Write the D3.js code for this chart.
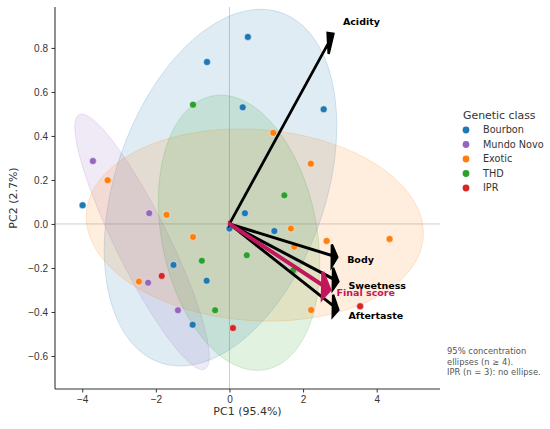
<!DOCTYPE html>
<html>
<head>
<meta charset="utf-8">
<script src="https://cdn.jsdelivr.net/npm/d3@7"></script>
<style>
  body { margin: 0; background: #fff; }
  svg { font-family: "DejaVu Sans", sans-serif; }
  .axis path, .axis line { stroke: #333; }
  .axis text { fill: #333; font-size: 10px; }
</style>
</head>
<body>
<svg class="chart"></svg>
<script>
// DATA /////////////////////////////////////////
const classes = ["Bourbon", "Mundo Novo", "Exotic", "THD", "IPR"];
const classColors = ["#1f77b4", "#9467bd", "#ff7f0e", "#2ca02c", "#d62728"];

// sample scores (PC1, PC2) and genetic class
const pc1 = [
  0.50, -0.61, 0.36, 2.56, -3.99, 0.42, 0.00, 1.22, -1.52, -0.62, -1.00,
  -3.71, -2.18, -2.21, -1.40,
  1.19, -3.31, 2.21, -1.71, -0.99, 1.67, 2.64, 4.35, 1.76, -2.46, 2.22,
  -0.99, 1.49, -0.75, 0.47, 1.73, -0.39,
  -1.84, 0.095, 3.55
];
const pc2 = [
  0.850, 0.736, 0.530, 0.521, 0.085, 0.049, -0.021, -0.032, -0.186, -0.258, -0.458,
  0.286, 0.049, -0.267, -0.392,
  0.414, 0.199, 0.274, 0.042, -0.059, -0.021, -0.077, -0.068, -0.103, -0.262, -0.391,
  0.542, 0.130, -0.167, -0.142, -0.211, -0.392,
  -0.236, -0.473, -0.374
];
const sampleClass = [
  ...Array(11).fill("Bourbon"),
  ...Array(4).fill("Mundo Novo"),
  ...Array(11).fill("Exotic"),
  ...Array(6).fill("THD"),
  ...Array(3).fill("IPR")
];

// loadings (biplot arrows)
const variables = ["Acidity", "Body", "Sweetness", "Aftertaste", "Final score"];
const loadX = [2.68, 2.78, 2.81, 2.81, 2.53];
const loadY = [0.82, -0.143, -0.249, -0.371, -0.278];

const xTicks = [-4, -2, 0, 2, 4];
const yTicks = [-0.6, -0.4, -0.2, 0.0, 0.2, 0.4, 0.6, 0.8];
const noteLines = ["95% concentration", "ellipses (n \u2265 4).", "IPR (n = 3): no ellipse."];

// DEFINITIONS //////////////////////////////////
const W = 550, H = 429;
const plot = { left: 55, right: 440, top: 7, bottom: 389 };
const ELL_K = 1.89;
const finalColor = "#c2185b";

const svg = d3.select(".chart").attr("width", W).attr("height", H);

const x = d3.scaleLinear().domain([-4.74, 5.72]).range([plot.left, plot.right]);
const y = d3.scaleLinear().domain([-0.75, 0.986]).range([plot.bottom, plot.top]);
const color = d3.scaleOrdinal().domain(classes).range(classColors);

const samples = pc1.map((v, i) => ({ x: v, y: pc2[i], cls: sampleClass[i] }));

// zero lines
svg.append("line")
  .attr("x1", x(0)).attr("x2", x(0))
  .attr("y1", plot.top).attr("y2", plot.bottom)
  .attr("stroke", "#c8c8c8").attr("stroke-width", 0.9);
svg.append("line")
  .attr("x1", plot.left).attr("x2", plot.right)
  .attr("y1", y(0)).attr("y2", y(0))
  .attr("stroke", "#c8c8c8").attr("stroke-width", 0.9);

// ELLIPSES /////////////////////////////////////
const ellipsePath = (pts) => {
  const n = pts.length;
  const mx = d3.mean(pts, (d) => d.x), my = d3.mean(pts, (d) => d.y);
  let sxx = 0, syy = 0, sxy = 0;
  pts.forEach((d) => {
    sxx += (d.x - mx) ** 2;
    syy += (d.y - my) ** 2;
    sxy += (d.x - mx) * (d.y - my);
  });
  sxx /= n - 1; syy /= n - 1; sxy /= n - 1;
  // cholesky
  const a = Math.sqrt(sxx), b = sxy / a, c = Math.sqrt(syy - b * b);
  const ring = d3.range(0, 361, 3).map((deg) => {
    const t = (deg * Math.PI) / 180;
    return [
      x(mx + ELL_K * a * Math.cos(t)),
      y(my + ELL_K * (b * Math.cos(t) + c * Math.sin(t)))
    ];
  });
  return d3.line()(ring) + "Z";
};

const groups = classes
  .map((c) => ({ cls: c, pts: samples.filter((d) => d.cls === c) }))
  .filter((g) => g.pts.length >= 4);

svg.append("g")
  .selectAll("path")
  .data(groups)
  .join("path")
  .attr("d", (g) => ellipsePath(g.pts))
  .attr("fill", (g) => color(g.cls))
  .attr("fill-opacity", 0.14)
  .attr("stroke", (g) => color(g.cls))
  .attr("stroke-opacity", 0.18)
  .attr("stroke-width", 1);

// POINTS ///////////////////////////////////////
svg.append("g")
  .selectAll("circle")
  .data(samples)
  .join("circle")
  .attr("cx", (d) => x(d.x))
  .attr("cy", (d) => y(d.y))
  .attr("r", 3.5)
  .attr("fill", (d) => color(d.cls))
  .attr("stroke", "#fff")
  .attr("stroke-width", 0.5);

// ARROWS ///////////////////////////////////////
// arrow outline built in data units, then sent through the scales
const arrowPath = (dx, dy, w, hw, hl) => {
  const L = Math.hypot(dx, dy);
  const ux = dx / L, uy = dy / L, px = -uy, py = ux;
  const tx = dx + hl * ux, ty = dy + hl * uy;
  const local = [
    [0, 0], [-hl, -hw / 2], [-hl, -w / 2], [-(L + hl), -w / 2],
    [-(L + hl), w / 2], [-hl, w / 2], [-hl, hw / 2]
  ];
  const pts = local.map(([s, p]) => [x(tx + s * ux + p * px), y(ty + s * uy + p * py)]);
  return d3.line()(pts) + "Z";
};

const loads = variables.map((v, i) => ({
  name: v, dx: loadX[i], dy: loadY[i], final: v === "Final score"
}));
// draw final score last so it sits on top
const order = loads.filter((d) => !d.final).concat(loads.filter((d) => d.final));

svg.append("g")
  .selectAll("path")
  .data(order)
  .join("path")
  .attr("d", (d) => d.final
    ? arrowPath(d.dx, d.dy, 0.004, 0.12, 0.2)
    : arrowPath(d.dx, d.dy, 0.003, 0.1, 0.15))
  .attr("fill", (d) => (d.final ? finalColor : "#000"))
  .attr("stroke", (d) => (d.final ? finalColor : "#000"))
  .attr("stroke-width", (d) => (d.final ? 3.2 : 2.4))
  .attr("stroke-linejoin", "miter")
  .attr("stroke-miterlimit", 4);

svg.append("g")
  .selectAll("text")
  .data(order)
  .join("text")
  .attr("x", (d) => x(d.dx * 1.15))
  .attr("y", (d) => y(d.dy * 1.12))
  .attr("dy", "0.35em")
  .attr("font-size", 9.5)
  .attr("font-weight", "bold")
  .attr("fill", (d) => (d.final ? finalColor : "#000"))
  .text((d) => d.name);

// AXES /////////////////////////////////////////
const xAxis = svg.append("g")
  .attr("class", "axis")
  .attr("transform", `translate(0, ${plot.bottom})`)
  .call(d3.axisBottom(x).tickValues(xTicks).tickFormat(d3.format("d")).tickSize(3.5).tickPadding(3.5));
xAxis.select(".domain").attr("d", `M${plot.left},0H${plot.right}`).attr("stroke-width", 1.1);

const yAxis = svg.append("g")
  .attr("class", "axis")
  .attr("transform", `translate(${plot.left}, 0)`)
  .call(d3.axisLeft(y).tickValues(yTicks).tickFormat(d3.format(".1f")).tickSize(3.5).tickPadding(3.5));
yAxis.select(".domain").attr("d", `M0,${plot.top}V${plot.bottom}`).attr("stroke-width", 1.1);

svg.append("text")
  .attr("x", (plot.left + plot.right) / 2)
  .attr("y", 415)
  .attr("text-anchor", "middle")
  .attr("font-size", 11)
  .attr("fill", "#333")
  .text("PC1 (95.4%)");

svg.append("text")
  .attr("transform", `translate(17, ${(plot.top + plot.bottom) / 2}) rotate(-90)`)
  .attr("text-anchor", "middle")
  .attr("font-size", 11)
  .attr("fill", "#333")
  .text("PC2 (2.7%)");

// LEGEND ///////////////////////////////////////
const legend = svg.append("g");
legend.append("text")
  .attr("x", 463).attr("y", 115).attr("dy", "0.35em")
  .attr("font-size", 10.9).attr("fill", "#333")
  .text("Genetic class");
const item = legend.selectAll(".item")
  .data(classes)
  .join("g")
  .attr("transform", (d, i) => `translate(466, ${130 + i * 14.5})`);
item.append("circle").attr("r", 3.4).attr("fill", (d) => color(d));
item.append("text")
  .attr("x", 17).attr("dy", "0.35em")
  .attr("font-size", 9.7).attr("fill", "#333")
  .text((d) => d);

// note
svg.append("text")
  .attr("font-size", 8.4)
  .attr("fill", "#555")
  .selectAll("tspan")
  .data(noteLines)
  .join("tspan")
  .attr("x", 447)
  .attr("y", (d, i) => 354 + i * 10.5)
  .text((d) => d);
</script>
</body>
</html>
